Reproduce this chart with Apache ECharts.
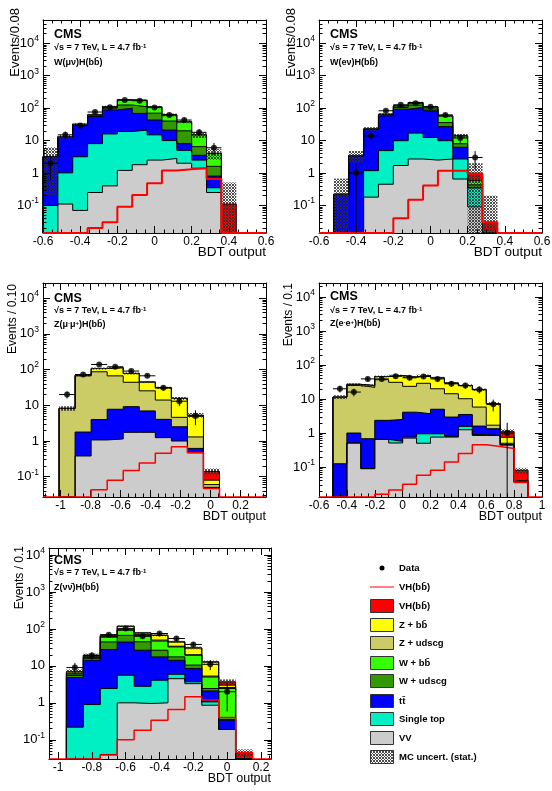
<!DOCTYPE html>
<html>
<head>
<meta charset="utf-8">
<script src="https://cdn.jsdelivr.net/npm/echarts@6/dist/echarts.min.js"></script>
<style>
  html, body { margin: 0; padding: 0; background: #fff; }
  #main { width: 552px; height: 791px; }
</style>
</head>
<body>
<div id="main"></div>
<script>
// ---- data (events per bin) ----
// stack order, bottom first: VV, single top, ttbar, W+udscg, W+bb, Z+udscg, Z+bb, VH(bb)

// W(mu nu)H(bb), 15 bins of 0.08 from -0.6
const wmnVV     = [0, 0.11, 0.07, 0.25, 0.4, 1.2, 1.8, 2.5, 2.8, 2.0, 1.4, 0.25, 0, 0, 0];
const wmnST     = [0.1, 0.9, 3.1, 7.8, 15.6, 17.8, 19.2, 12.5, 7.2, 3.0, 1.1, 0.1, 0, 0, 0];
const wmnTT     = [3.1, 12, 26.8, 47, 72, 80, 48, 28, 11, 3, 1, 0.45, 0, 0, 0];
const wmnWudscg = [0, 0, 1, 3, 12, 26, 41, 27, 19, 12, 3, 0.8, 0, 0, 0];
const wmnWbb    = [0, 0, 1, 4, 12, 55, 65, 40, 22, 18, 8.5, 2.4, 0, 0, 0];
const wmnVH     = [0, 0, 0, 0, 0, 0, 0, 0, 0, 0, 0, 0.05, 0.11, 0, 0];
const wmnErr    = [3.0, 2, 3, 5, 8, 10, 10, 8, 6, 4, 3, 1.5, 0.4, 0, 0];
const wmnData   = [2, 15, 29, 76, 106, 180, 170, 104, 62, 43, 18, 6, 0, 0, 0];
const wmnSignal = [0, 0, 0, 0.02, 0.03, 0.09, 0.21, 0.48, 1.2, 1.3, 1.4, 0.65, 0, 0, 0];

// W(e nu)H(bb)
const wenVV     = [0, 0, 0, 0.18, 0.45, 1.7, 2.7, 2.5, 2.7, 0.65, 0.09, 0, 0, 0, 0];
const wenST     = [0, 0, 0, 1.0, 4.45, 8.2, 14.3, 10, 7.2, 2.05, 0.26, 0, 0, 0, 0];
const wenTT     = [0, 0.22, 3.4, 20.8, 53, 83, 88, 70.5, 17, 3.5, 0, 0, 0, 0, 0];
const wenWudscg = [0, 0, 0, 0.5, 4, 12, 20, 12, 9, 1.8, 0.08, 0, 0, 0, 0];
const wenWbb    = [0, 0, 0, 0.5, 3, 13, 23, 15, 22, 6, 0.15, 0, 0, 0, 0];
const wenVH     = [0, 0, 0, 0, 0, 0, 0, 0, 0, 0, 0.4, 0.03, 0, 0, 0];
const wenErr    = [0, 0.45, 1.4, 3, 5, 8, 10, 8, 5, 2, 1.0, 0.17, 0, 0, 0];
const wenData   = [0, 0, 1, 14, 83, 127, 142, 110, 62, 12, 3, 0, 0, 0, 0];
const wenSignal = [0, 0, 0, 0, 0, 0.04, 0.15, 0.41, 1.18, 1.18, 0.95, 0.03, 0, 0, 0];

// Z(mu mu)H(bb), 10 bins
const zmmVV     = [0, 0.38, 1.07, 1.14, 1.75, 1.75, 1.24, 1.0, 0.47, 0.05];
const zmmTT     = [0, 1.4, 2.9, 6.6, 7.4, 5.2, 2.8, 1.5, 0.15, 0];
const zmmZudscg = [8.2, 65, 83, 59, 35, 18.5, 10, 2.1, 0.68, 0.01];
const zmmZbb    = [0, 3, 20, 47, 34, 19.5, 17, 11, 3.7, 0.02];
const zmmVH     = [0, 0, 0, 0, 0, 0, 0, 0, 0.3, 0.06];
const zmmErr    = [1.2, 5, 7, 7, 5, 3, 2, 1.5, 0.8, 0.03];
const zmmData   = [20, 73, 139, 120, 91, 67, 31, 13, 5, 0];
const zmmSignal = [0, 0, 0.043, 0.08, 0.15, 0.24, 0.45, 0.69, 0.47, 0.047];

// Z(e e)H(bb), 14 bins of 0.1 from -0.5
const zeeVV     = [0, 0.51, 0.09, 0.65, 0.51, 0.71, 0.5, 0.76, 0.76, 1.25, 0.85, 0.85, 0.45, 0.036];
const zeeST     = [0, 0, 0, 0, 0.06, 0.05, 0.45, 0.19, 0.04, 0.32, 0.05, 0, 0, 0];
const zeeTT     = [0.125, 0.49, 0.59, 1.71, 1.93, 3.34, 2.75, 4.05, 2.15, 1.93, 0.7, 0.49, 0, 0];
const zeeZudscg = [11.3, 24, 21.3, 34.6, 28.5, 19.5, 25.3, 15, 11.35, 6.7, 4.2, 0.36, 0.05, 0];
const zeeZbb    = [0, 2, 3, 9, 18, 20.4, 20, 22, 15.2, 14.8, 13, 5.6, 0.25, 0.004];
const zeeVH     = [0, 0, 0, 0, 0, 0, 0, 0, 0, 0, 0, 0, 0.35, 0.04];
const zeeErr    = [1.5, 2, 2, 3, 3, 3, 3, 3, 2, 2, 1.5, 0.8, 0.2, 0.015];
const zeeData   = [20, 16, 39, 39, 47, 42, 46, 39, 28, 25, 19, 7, 1, 0];
const zeeSignal = [0, 0, 0, 0.016, 0.021, 0.031, 0.057, 0.08, 0.14, 0.25, 0.45, 0.4, 0.35, 0.035];

// Z(nu nu)H(bb), 11 bins of 0.1 from -0.95
const znnVV     = [0, 0, 0.04, 1.0, 0.96, 1.0, 4.5, 3.3, 0.86, 0.19, 0];
const znnST     = [0.22, 0.9, 2.4, 4.6, 1.84, 3.1, 1.45, 0.4, 0.2, 0, 0];
const znnTT     = [4.6, 13.3, 25.2, 38.4, 23.7, 13.4, 8.25, 4.8, 1.04, 0.15, 0];
const znnWudscg = [0.7, 1.8, 16.9, 23, 18.5, 9, 3.3, 2, 0.34, 0.02, 0];
const znnWbb    = [0.5, 1, 15.5, 25, 22, 20.5, 15.1, 8.9, 2.56, 2.08, 0];
const znnZudscg = [0.3, 1, 2, 3, 3, 3, 1.4, 0.6, 0.3, 0.16, 0];
const znnZbb    = [0.6, 1.4, 5, 23, 8, 17, 10.6, 10.6, 7.5, 0.4, 0];
const znnVH     = [0, 0, 0, 0, 0, 0, 0, 0, 0, 0.7, 0.045];
const znnErr    = [1.2, 2, 4, 6, 5, 4, 3, 2.5, 1.2, 0.6, 0.01];
const znnData   = [9, 19, 70, 102, 63, 75, 55, 38, 11, 2, 0];
const znnSignal = [0, 0, 0.039, 0.1, 0.18, 0.34, 0.66, 1.45, 1.2, 0.4, 0.045];

const yTickExp = [-1, 0, 1, 2, 3, 4];

// ---- styling ----
const FONT = 'Liberation Sans, Arial, Helvetica, sans-serif';
const colors = {
  vv: '#cccccc', st: '#00f0c4', tt: '#0000ff', wudscg: '#339900',
  wbb: '#33ff00', zudscg: '#cccc66', zbb: '#ffff00', vh: '#ff0000'
};
const stackOrder = ['vv', 'st', 'tt', 'wudscg', 'wbb', 'zudscg', 'zbb', 'vh'];

function binEdges(lo, w, n) {
  const e = [];
  for (let i = 0; i <= n; i++) e.push(+(lo + i * w).toFixed(4));
  return e;
}
function ticks(lo, hi, step) {
  const t = [];
  for (let v = Math.ceil(lo / step - 1e-6) * step; v <= hi + 1e-9; v += step) t.push(+v.toFixed(4));
  return t;
}
function logMinor(lo, hi) {
  const t = [];
  for (let d = -3; d <= 5; d++) {
    for (let k = 2; k <= 9; k++) {
      const v = Math.log10(k) + d;
      if (v > lo && v < hi) t.push(v);
    }
  }
  return t;
}

const panels = [
  { grid: { left: 43, top: 20, width: 223, height: 213 }, x: [-0.6, 0.6], y: [-1.852, 4.72],
    edges: binEdges(-0.6, 0.08, 15), minorStep: 0.05,
    layers: { vv: wmnVV, st: wmnST, tt: wmnTT, wudscg: wmnWudscg, wbb: wmnWbb, vh: wmnVH },
    err: wmnErr, data: wmnData, signal: wmnSignal, sigW: 2,
    title: 'Events/0.08', titleSize: 13, titleX: 15, titleY: 8,
    xTitleX: 266, xTitleY: 252, xTitleSize: 13.5,
    textX: 54, cmsY: 35, lumiY: 48, chanY: 63, channel: 'W(μν)H(bb\u0304)' },
  { grid: { left: 319, top: 20, width: 223, height: 213 }, x: [-0.6, 0.6], y: [-1.852, 4.72],
    edges: binEdges(-0.6, 0.08, 15), minorStep: 0.05,
    layers: { vv: wenVV, st: wenST, tt: wenTT, wudscg: wenWudscg, wbb: wenWbb, vh: wenVH },
    err: wenErr, data: wenData, signal: wenSignal, sigW: 2,
    title: 'Events/0.08', titleSize: 13, titleX: 291, titleY: 8,
    xTitleX: 542, xTitleY: 252, xTitleSize: 13.5,
    textX: 330, cmsY: 35, lumiY: 48, chanY: 63, channel: 'W(eν)H(bb\u0304)' },
  { grid: { left: 43, top: 283, width: 223, height: 214 }, x: [-1.117, 0.37], y: [-1.569, 4.426],
    edges: binEdges(-1.01, 0.107, 10), minorStep: 0.05,
    layers: { vv: zmmVV, tt: zmmTT, zudscg: zmmZudscg, zbb: zmmZbb, vh: zmmVH },
    err: zmmErr, data: zmmData, signal: zmmSignal, sigW: 1.5,
    title: 'Events / 0.10', titleSize: 12, titleX: 13, titleY: 284,
    xTitleX: 266, xTitleY: 517, xTitleSize: 12.5,
    textX: 54, cmsY: 299, lumiY: 311, chanY: 325, channel: 'Z(μ{s|-}μ{s|+})H(bb\u0304)' },
  { grid: { left: 319, top: 283, width: 223, height: 214 }, x: [-0.6, 1.0], y: [-1.88, 4.41],
    edges: binEdges(-0.5, 0.1, 14), minorStep: 0.05,
    layers: { vv: zeeVV, st: zeeST, tt: zeeTT, zudscg: zeeZudscg, zbb: zeeZbb, vh: zeeVH },
    err: zeeErr, data: zeeData, signal: zeeSignal, sigW: 1.5,
    title: 'Events / 0.1', titleSize: 12, titleX: 289, titleY: 283,
    xTitleX: 542, xTitleY: 517, xTitleSize: 12.5,
    textX: 330, cmsY: 297, lumiY: 311, chanY: 324, channel: 'Z(e{s|-}e{s|+})H(bb\u0304)' },
  { grid: { left: 49, top: 548, width: 222, height: 211 }, x: [-1.053, 0.259], y: [-1.52, 4.19],
    edges: binEdges(-0.95, 0.1, 11), minorStep: 0.05,
    layers: { vv: znnVV, st: znnST, tt: znnTT, wudscg: znnWudscg, wbb: znnWbb, zudscg: znnZudscg, zbb: znnZbb, vh: znnVH },
    err: znnErr, data: znnData, signal: znnSignal, sigW: 1.5,
    title: 'Events / 0.1', titleSize: 12, titleX: 20, titleY: 546,
    xTitleX: 271, xTitleY: 779, xTitleSize: 12.5,
    textX: 54, cmsY: 561, lumiY: 573, chanY: 588, channel: 'Z(νν\u0304)H(bb\u0304)' }
];

// crosshatch pattern for the MC stat. uncertainty band
function makeHatch() {
  const c = document.createElement('canvas');
  c.width = 3; c.height = 3;
  const ctx = c.getContext('2d');
  const img = ctx.createImageData(3, 3);
  for (let y = 0; y < 3; y++) {
    for (let x = 0; x < 3; x++) {
      const on = (x + y) % 3 === 0 || (x - y + 3) % 3 === 0;
      const i = (y * 3 + x) * 4;
      img.data[i] = 45; img.data[i + 1] = 45; img.data[i + 2] = 45;
      img.data[i + 3] = on ? 215 : 0;
    }
  }
  ctx.putImageData(img, 0, 0);
  return { image: c, repeat: 'repeat' };
}
const hatch = makeHatch();

function toLog(v, ymin) {
  return v > 0 ? Math.max(Math.log10(v), ymin) : ymin;
}

const grids = [], xAxes = [], yAxes = [], series = [], graphics = [];

panels.forEach((p, g) => {
  grids.push(Object.assign({ show: false, containLabel: false, outerBoundsMode: 'none' }, p.grid));
  const xMajor = ticks(p.x[0], p.x[1], 0.2);
  const xMinor = ticks(p.x[0], p.x[1], p.minorStep);
  const yMinor = logMinor(p.y[0], p.y[1]);
  const line = { show: true, onZero: false, lineStyle: { color: '#000', width: 1 } };
  const noLine = { show: false, onZero: false };
  const tk = (vals, len) => ({ inside: true, length: len, customValues: vals, lineStyle: { color: '#000', width: 1 } });
  const xb = { gridIndex: g, type: 'value', min: p.x[0], max: p.x[1], splitLine: { show: false }, z: 7 };
  const yb = { gridIndex: g, type: 'value', min: p.y[0], max: p.y[1], splitLine: { show: false }, z: 7 };
  const xi = xAxes.length, yi = yAxes.length;
  xAxes.push(
    Object.assign({}, xb, { position: 'bottom', axisLine: line, axisTick: tk(xMajor, 7),
      axisLabel: { customValues: xMajor, color: '#000', fontSize: 12, fontFamily: FONT, margin: 3,
        formatter: v => String(Math.round(v * 10) / 10) } }),
    Object.assign({}, xb, { position: 'bottom', axisLine: noLine, axisTick: tk(xMinor, 3.5), axisLabel: { show: false } }),
    Object.assign({}, xb, { position: 'top', axisLine: line, axisTick: tk(xMajor, 7), axisLabel: { show: false } }),
    Object.assign({}, xb, { position: 'top', axisLine: noLine, axisTick: tk(xMinor, 3.5), axisLabel: { show: false } })
  );
  yAxes.push(
    Object.assign({}, yb, { position: 'left', axisLine: line, axisTick: tk(yTickExp, 7),
      axisLabel: { customValues: yTickExp, color: '#000', fontFamily: FONT, margin: 4,
        formatter: v => {
          const k = Math.round(v);
          if (k === 0) return '{b|1}';
          if (k === 1) return '{b|10}';
          return '{b|10}{s|' + k + '}';
        },
        rich: {
          b: { fontSize: 13, fontFamily: FONT, color: '#000', lineHeight: 18 },
          s: { fontSize: 8.5, fontFamily: FONT, color: '#000', verticalAlign: 'top', lineHeight: 9 }
        } } }),
    Object.assign({}, yb, { position: 'left', axisLine: noLine, axisTick: tk(yMinor, 3.5), axisLabel: { show: false } }),
    Object.assign({}, yb, { position: 'right', axisLine: line, axisTick: tk(yTickExp, 7), axisLabel: { show: false } }),
    Object.assign({}, yb, { position: 'right', axisLine: noLine, axisTick: tk(yMinor, 3.5), axisLabel: { show: false } })
  );

  const ymin = p.y[0];
  const e = p.edges;
  const nb = e.length - 1;

  // cumulative stack
  const cum = {};
  let run = new Array(nb).fill(0);
  stackOrder.forEach(k => {
    if (!p.layers[k]) return;
    run = run.map((v, i) => v + p.layers[k][i]);
    cum[k] = run.slice();
  });
  const total = run;

  // draw from the top of the stack down so smaller sums cover larger ones
  stackOrder.slice().reverse().forEach(k => {
    if (!cum[k]) return;
    const pts = [[e[0], ymin]];
    cum[k].forEach((v, i) => pts.push([e[i], toLog(v, ymin)]));
    pts.push([e[nb], ymin]);
    series.push({
      type: 'line', xAxisIndex: xi, yAxisIndex: yi, step: 'end', symbol: 'none', silent: true,
      data: pts, z: 2,
      lineStyle: { color: '#000', width: 1 },
      areaStyle: { color: colors[k], opacity: 1, origin: 'start' }
    });
  });

  // MC stat. uncertainty band
  const band = [];
  total.forEach((t, i) => {
    if (t <= 0 || p.err[i] <= 0) return;
    const hi = Math.min(Math.log10(t + p.err[i]), p.y[1]);
    const lo = t - p.err[i] > 0 ? toLog(t - p.err[i], ymin) : ymin;
    band.push([e[i], e[i + 1], lo, hi]);
  });
  series.push({
    type: 'custom', xAxisIndex: xi, yAxisIndex: yi, silent: true, z: 3, clip: true,
    encode: { x: [0, 1], y: [2, 3] },
    data: band,
    renderItem: (params, api) => {
      const a = api.coord([api.value(0), api.value(3)]);
      const b = api.coord([api.value(1), api.value(2)]);
      return { type: 'rect', shape: { x: a[0], y: a[1], width: b[0] - a[0], height: b[1] - a[1] },
        style: { fill: hatch, stroke: null } };
    }
  });

  // VH signal, unstacked
  const sig = [[p.x[0], ymin], [e[0], ymin]];
  p.signal.forEach((v, i) => sig.push([e[i], toLog(v, ymin)]));
  sig.push([e[nb], ymin], [p.x[1], ymin]);
  series.push({
    type: 'line', xAxisIndex: xi, yAxisIndex: yi, step: 'end', symbol: 'none', silent: true,
    data: sig, z: 8, lineStyle: { color: '#ff0000', width: p.sigW }
  });

  // data with Poisson error bars
  const pts = [], bars = [];
  p.data.forEach((n, i) => {
    if (n <= 0) return;
    const xc = (e[i] + e[i + 1]) / 2;
    const s = Math.sqrt(n);
    pts.push([xc, Math.log10(n)]);
    bars.push([xc, Math.log10(n), toLog(n - s, ymin), Math.log10(n + s), e[i], e[i + 1]]);
  });
  series.push({
    type: 'custom', xAxisIndex: xi, yAxisIndex: yi, silent: true, z: 9, clip: true,
    encode: { x: [0, 4, 5], y: [1, 2, 3] },
    data: bars,
    renderItem: (params, api) => {
      const lo = api.coord([api.value(0), api.value(2)]);
      const hi = api.coord([api.value(0), api.value(3)]);
      const l = api.coord([api.value(4), api.value(1)]);
      const r = api.coord([api.value(5), api.value(1)]);
      return { type: 'group', children: [
        { type: 'line', shape: { x1: lo[0], y1: lo[1], x2: hi[0], y2: hi[1] }, style: { stroke: '#000', lineWidth: 1 } },
        { type: 'line', shape: { x1: l[0], y1: l[1], x2: r[0], y2: r[1] }, style: { stroke: '#000', lineWidth: 1 } }
      ] };
    }
  });
  series.push({
    type: 'scatter', xAxisIndex: xi, yAxisIndex: yi, silent: true, z: 10,
    symbol: 'circle', symbolSize: 6, itemStyle: { color: '#000' }, data: pts
  });

  // texts
  graphics.push(
    { type: 'text', x: p.titleX, y: p.titleY, rotation: Math.PI / 2,
      style: { text: p.title, font: p.titleSize + 'px ' + FONT, fill: '#000', align: 'right', verticalAlign: 'middle' } },
    { type: 'text', x: p.xTitleX, y: p.xTitleY,
      style: { text: 'BDT output', font: p.xTitleSize + 'px ' + FONT, fill: '#000', align: 'right', verticalAlign: 'middle' } },
    { type: 'text', x: p.textX, y: p.cmsY,
      style: { text: 'CMS', font: 'bold 12.5px ' + FONT, fill: '#000', verticalAlign: 'middle' } },
    { type: 'text', x: p.textX, y: p.lumiY,
      style: { text: '√s = 7 TeV, L = 4.7 fb{s|-1}', font: 'bold 9px ' + FONT, fill: '#000', verticalAlign: 'middle',
        rich: { s: { font: 'bold 6px ' + FONT, verticalAlign: 'top', lineHeight: 6 } } } },
    { type: 'text', x: p.textX, y: p.chanY,
      style: { text: p.channel, font: 'bold 9px ' + FONT, fill: '#000', verticalAlign: 'middle',
        rich: { s: { font: 'bold 6px ' + FONT, verticalAlign: 'top', lineHeight: 6 } } } }
  );
});

// legend
const legendRows = [
  { y: 568, kind: 'dot', label: 'Data' },
  { y: 587, kind: 'line', label: 'VH(bb\u0304)' },
  { y: 606, kind: 'box', color: colors.vh, label: 'VH(bb\u0304)' },
  { y: 625, kind: 'box', color: colors.zbb, label: 'Z + bb\u0304' },
  { y: 643, kind: 'box', color: colors.zudscg, label: 'Z + udscg' },
  { y: 663, kind: 'box', color: colors.wbb, label: 'W + bb\u0304' },
  { y: 681, kind: 'box', color: colors.wudscg, label: 'W + udscg' },
  { y: 701, kind: 'box', color: colors.tt, label: 'tt\u0304' },
  { y: 719, kind: 'box', color: colors.st, label: 'Single top' },
  { y: 738, kind: 'box', color: colors.vv, label: 'VV' },
  { y: 757, kind: 'hatch', label: 'MC uncert. (stat.)' }
];
legendRows.forEach(r => {
  if (r.kind === 'dot') {
    graphics.push({ type: 'circle', shape: { cx: 382, cy: r.y, r: 2.5 }, style: { fill: '#000' } });
  } else if (r.kind === 'line') {
    graphics.push({ type: 'line', shape: { x1: 370, y1: r.y, x2: 394, y2: r.y }, style: { stroke: '#ff0000', lineWidth: 1 } });
  } else {
    graphics.push({ type: 'rect', shape: { x: 370.5, y: r.y - 6.5, width: 23, height: 13 },
      style: { fill: r.kind === 'hatch' ? hatch : r.color, stroke: '#333', lineWidth: 1 } });
  }
  graphics.push({ type: 'text', x: 399, y: r.y,
    style: { text: r.label, font: 'bold 9.5px ' + FONT, fill: '#000', verticalAlign: 'middle' } });
});

const chart = echarts.init(document.getElementById('main'), null, { renderer: 'canvas' });
chart.setOption({
  animation: false,
  backgroundColor: '#fff',
  grid: grids,
  xAxis: xAxes,
  yAxis: yAxes,
  series: series,
  graphic: graphics
});
</script>
</body>
</html>
